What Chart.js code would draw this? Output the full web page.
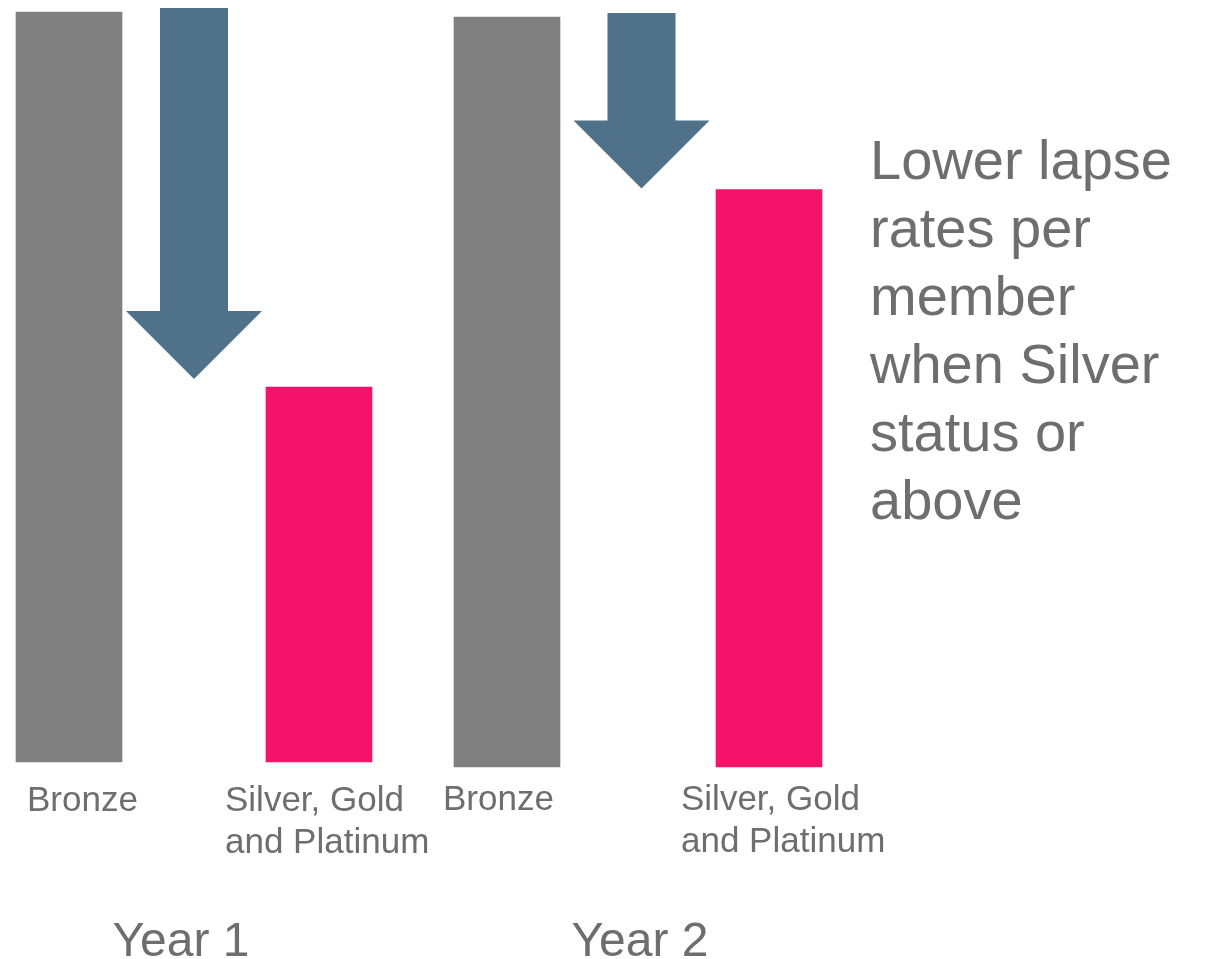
<!DOCTYPE html>
<html lang="en">
<head>
<meta charset="UTF-8">
<title>Lapse rates by status</title>
<style>
  body { margin: 0; background: #fff; font-family: "Liberation Sans", Arial, sans-serif; }
  .page { position: relative; width: 1205px; height: 959px; overflow: hidden; }
  canvas { position: absolute; top: 0; }
  #year1 { left: 0; }
  #year2 { left: 440px; }
  .note {
    position: absolute; left: 870px; top: 126px;
    font-size: 56px; line-height: 68px; color: #6e6e6e;
  }
</style>
<script src="https://cdn.jsdelivr.net/npm/chart.js"></script>
</head>
<body>
<div class="page">
  <canvas id="year1" width="440" height="959"></canvas>
  <canvas id="year2" width="460" height="959"></canvas>
  <div class="note">Lower lapse<br>rates per<br>member<br>when Silver<br>status or<br>above</div>
</div>
<script>
const tiers = [['Bronze'], ['Silver, Gold', 'and Platinum']];
const years = ['Year 1', 'Year 2'];
// lapse rate per member, indexed to Bronze = 100
const year1Lapse = [100, 50];
const year2Lapse = [100, 77];
const tierColours = ['#808080', '#f41369'];
const textColour = '#6e6e6e';

// tier names under the bars, year caption, and the down arrow between the two bars
const decorations = {
  id: 'decorations',
  afterDatasetsDraw(chart, args, opts) {
    const ctx = chart.ctx;
    const x = chart.scales.x;
    const y = chart.scales.y;
    const values = chart.data.datasets[0].data;
    const left = x.getPixelForValue(0);
    const right = x.getPixelForValue(1);
    const mid = (left + right) / 2 + opts.arrowShift;

    const top = y.getPixelForValue(values[0]) - 4;
    const tip = y.getPixelForValue(values[1]) - opts.tipGap;
    const shaft = 34, head = 68;
    ctx.save();
    ctx.fillStyle = '#4f728a';
    ctx.beginPath();
    ctx.moveTo(mid - shaft, top);
    ctx.lineTo(mid + shaft, top);
    ctx.lineTo(mid + shaft, tip - head);
    ctx.lineTo(mid + head, tip - head);
    ctx.lineTo(mid, tip);
    ctx.lineTo(mid - head, tip - head);
    ctx.lineTo(mid - shaft, tip - head);
    ctx.closePath();
    ctx.fill();

    ctx.fillStyle = textColour;
    ctx.textAlign = 'left';
    ctx.textBaseline = 'alphabetic';
    ctx.font = '35px "Liberation Sans", Arial, sans-serif';
    chart.data.labels.forEach((lines, i) => {
      const lx = x.getPixelForValue(i) + opts.labelShift[i];
      lines.forEach((line, j) => ctx.fillText(line, lx, opts.labelBaseline + j * 42));
    });

    ctx.textAlign = 'center';
    ctx.font = '48px "Liberation Sans", Arial, sans-serif';
    ctx.fillText(opts.year, (left + right) / 2 + opts.yearShift, 956);
    ctx.restore();
  }
};

function makeChart(id, values, padding, deco) {
  return new Chart(document.getElementById(id), {
    type: 'bar',
    data: {
      labels: tiers,
      datasets: [{
        data: values,
        backgroundColor: tierColours,
        barThickness: 106,
        clip: false
      }]
    },
    options: {
      responsive: false,
      animation: false,
      layout: { padding: padding },
      scales: {
        x: { display: false, offset: false },
        y: { display: false, min: 0, max: 100 }
      },
      plugins: {
        legend: { display: false },
        tooltip: { enabled: false },
        decorations: deco
      }
    },
    plugins: [decorations]
  });
}

makeChart('year1', year1Lapse,
  { left: 69, right: 121, top: 12, bottom: 197 },
  { year: years[0], labelShift: [-42, -94], labelBaseline: 811, yearShift: -13, arrowShift: 0, tipGap: 8 });

makeChart('year2', year2Lapse,
  { left: 67, right: 131, top: 17, bottom: 192 },
  { year: years[1], labelShift: [-64, -88], labelBaseline: 810, yearShift: 2, arrowShift: 3.5, tipGap: 1 });
</script>
</body>
</html>
